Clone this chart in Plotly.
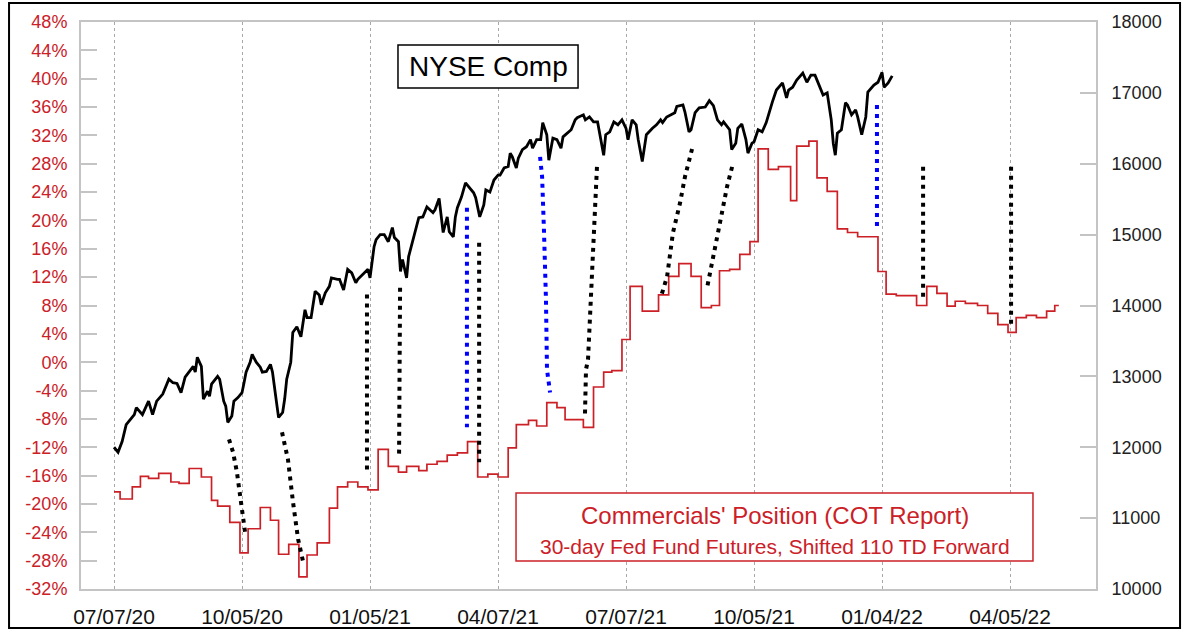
import plotly.graph_objects as go

# ---------------- data ----------------
x_tick_days = [0, 63, 126, 189, 252, 315, 378, 441]
x_tick_labels = ["07/07/20", "10/05/20", "01/05/21", "04/07/21",
                 "07/07/21", "10/05/21", "01/04/22", "04/05/22"]

left_tick_vals = [-32, -28, -24, -20, -16, -12, -8, -4, 0, 4, 8, 12, 16, 20,
                  24, 28, 32, 36, 40, 44, 48]
left_tick_labels = ["-32%", "-28%", "-24%", "-20%", "-16%", "-12%", "-8%",
                    "-4%", "0%", "4%", "8%", "12%", "16%", "20%", "24%",
                    "28%", "32%", "36%", "40%", "44%", "48%"]
right_tick_vals = [10000, 11000, 12000, 13000, 14000, 15000, 16000, 17000, 18000]
right_tick_labels = ["10000", "11000", "12000", "13000", "14000", "15000",
                     "16000", "17000", "18000"]

# NYSE Composite (trading-day index, close)
nyse_day = [0, 2, 4, 6, 8, 10, 11, 14, 17, 19, 21, 24, 27, 29, 31, 33, 35, 37,
            39, 40, 41, 43, 44, 46, 47, 48, 51, 52, 54, 55, 56, 58, 59, 61, 63,
            64, 65, 67, 68, 70, 72, 73, 75, 77, 78, 80, 81, 83, 84, 85, 87, 88,
            90, 92, 94, 95, 97, 99, 101, 102, 104, 106, 107, 110, 111, 113, 114,
            115, 117, 119, 120, 123, 125, 126, 127, 128, 129, 131, 133, 135,
            137, 138, 140, 141, 142, 144, 145, 147, 149, 150, 152, 154, 157,
            158, 160, 161, 162, 164, 165, 167, 168, 169, 171, 173, 175, 177,
            178, 179, 180, 182, 183, 185, 187, 189, 190, 192, 194, 195, 196,
            198, 199, 201, 203, 205, 206, 208, 210, 211, 213, 214, 216, 218,
            220, 221, 223, 225, 227, 228, 231, 232, 234, 236, 238, 239, 241,
            242, 244, 246, 248, 250, 251, 252, 253, 255, 257, 258, 260, 262,
            265, 267, 269, 270, 272, 274, 276, 277, 280, 281, 283, 284, 286,
            288, 291, 293, 295, 297, 299, 300, 302, 303, 304, 306, 307, 309,
            311, 312, 314, 315, 317, 319, 321, 323, 324, 326, 329, 331, 332,
            334, 336, 339, 341, 343, 345, 346, 348, 349, 351, 352, 353, 354,
            355, 356, 358, 360, 361, 363, 365, 366, 368, 370, 371, 374, 376,
            378, 379, 381, 383]
nyse_close = [12000, 11930, 12080, 12320, 12390, 12460, 12560, 12460, 12650,
              12460, 12650, 12750, 12960, 12910, 12900, 12770, 12990, 13060,
              13140, 13060, 13270, 13140, 12680, 12790, 12720, 12890, 13000,
              12960, 12650, 12580, 12350, 12440, 12650, 12700, 12770, 12910,
              13060, 13200, 13310, 13200, 13130, 13060, 13070, 13170, 13060,
              12630, 12420, 12490, 12680, 12960, 13200, 13620, 13700, 13560,
              13940, 13830, 13830, 14200, 14150, 14010, 14180, 14270, 14390,
              14370, 14370, 14220, 14370, 14510, 14460, 14320, 14370, 14460,
              14510, 14390, 14620, 14830, 14930, 15000, 15000, 14900, 15100,
              14960, 14900, 14480, 14650, 14390, 14690, 14900, 15110, 15240,
              15250, 15390, 15310, 15350, 15510, 15250, 15030, 15250, 15040,
              14970, 15250, 15380, 15530, 15730, 15660, 15590, 15520, 15390,
              15250, 15420, 15630, 15600, 15770, 15840, 15840, 15940, 15960,
              16150, 16100, 15940, 16080, 16200, 16240, 16340, 16220, 16340,
              16340, 16580, 16410, 16050, 16360, 16340, 16220, 16380, 16430,
              16480, 16620, 16650, 16690, 16620, 16660, 16590, 16590, 16450,
              16120, 16410, 16450, 16590, 16550, 16620, 16550, 16500, 16340,
              16620, 16550, 16340, 16030, 16410, 16500, 16550, 16620, 16580,
              16660, 16690, 16720, 16810, 16830, 16730, 16450, 16480, 16720,
              16790, 16800, 16890, 16820, 16620, 16550, 16590, 16520, 16480,
              16200, 16290, 16500, 16560, 16340, 16150, 16290, 16310, 16480,
              16450, 16580, 16790, 16870, 17040, 17140, 16930, 17040, 17080,
              17180, 17280, 17150, 17250, 17250, 17180, 17040, 16970, 17000,
              16800, 16620, 16290, 16120, 16430, 16480, 16860, 16830, 16690,
              16760, 16660, 16410, 16660, 17010, 17110, 17150, 17290, 17080,
              17140, 17240]

# Commercials' position, shifted 110 TD forward (step series, %)
cot_day = [0, 3, 9, 13, 17, 22, 28, 32, 37, 43, 48, 51, 57, 62, 66, 72, 77,
           81, 86, 91, 95, 100, 106, 110, 115, 120, 125, 130, 135, 140, 144,
           150, 154, 159, 164, 169, 174, 179, 184, 189, 194, 198, 204, 208,
           213, 218, 222, 231, 236, 241, 245, 250, 254, 260, 268, 273, 278,
           284, 289, 294, 298, 303, 308, 313, 317, 322, 327, 333, 336, 342,
           346, 351, 356, 361, 366, 376, 380, 385, 395, 400, 405, 410, 414,
           419, 425, 430, 435, 440, 444, 449, 454, 459, 463, 465]
cot_pct = [-18.3, -19.3, -17.6, -16.1, -16.4, -15.7, -16.9, -17.1, -15.0,
           -16.2, -19.5, -20.3, -22.6, -26.9, -23.5, -20.5, -22.3, -27.1,
           -25.7, -30.3, -27.2, -25.5, -20.6, -17.6, -16.9, -17.6, -18.0,
           -12.3, -14.7, -15.5, -14.7, -15.3, -14.4, -14.0, -13.1, -12.8,
           -11.2, -16.2, -15.8, -16.2, -12.1, -8.8, -8.2, -9.0, -5.7, -6.4,
           -8.1, -9.2, -3.5, -1.4, -1.2, 3.2, 10.7, 7.2, 9.5, 12.1, 13.9,
           12.1, 7.7, 8.0, 12.9, 13.1, 15.2, 17.0, 30.1, 27.2, 27.6, 22.8,
           30.5, 31.2, 26.0, 24.1, 18.8, 18.3, 17.7, 12.8, 9.6, 9.4, 8.0,
           10.7, 9.7, 7.9, 8.6, 8.3, 8.0, 6.9, 5.3, 4.2, 6.3, 6.6, 6.3, 7.2,
           8.0, 8.0]

# dotted connectors (day, NYSE-scale value), drawn on the right axis
conn_days = [
    [56.6, 58.6, 60.5, 63.0, 64.5],
    [82.7, 85.6, 88.1, 90.6, 93.0],
    [124.5, 124.5],
    [140.8, 140.3],
    [173.7, 173.7],
    [179.7, 179.7],
    [209.7, 210.7, 211.6, 212.6, 213.1, 214.6],
    [237.7, 236.7, 235.8, 234.3, 233.3, 232.3, 231.8],
    [284.5, 281.0, 278.6, 275.1, 272.2, 269.2],
    [304.2, 301.7, 299.2, 296.8, 294.3, 291.9],
    [375.5, 375.5],
    [398.2, 398.2],
    [441.5, 441.5],
]
conn_vals = [
    [12112, 11929, 11647, 11126, 10802],
    [12211, 11830, 11225, 10704, 10394],
    [14154, 11661],
    [14252, 11901],
    [15379, 12281],
    [14886, 11788],
    [16097, 15815, 15069, 14083, 13098, 12774],
    [15956, 15308, 14548, 13802, 13238, 13098, 12464],
    [16209, 15815, 15449, 15027, 14407, 14125],
    [15956, 15674, 15308, 14970, 14604, 14252],
    [16829, 15111],
    [15956, 14125],
    [15956, 13703],
]
conn_kind = ["black", "black", "black", "black", "blue", "black", "blue",
             "black", "black", "black", "blue", "black", "black"]

# ---------------- figure ----------------
RED = "#cc2027"
FONT = "Liberation Sans, Arial, Helvetica, sans-serif"

fig = go.Figure()

fig.add_trace(go.Scatter(x=cot_day, y=cot_pct, mode="lines", yaxis="y",
                         line=dict(color=RED, width=1.7, shape="hv"),
                         hoverinfo="skip", showlegend=False))

fig.add_trace(go.Scatter(x=nyse_day, y=nyse_close, mode="lines", yaxis="y2",
                         line=dict(color="#000000", width=2.8),
                         hoverinfo="skip", showlegend=False))

for xs, ys, kind in zip(conn_days, conn_vals, conn_kind):
    col = "#0000ff" if kind == "blue" else "#000000"
    fig.add_trace(go.Scatter(x=xs, y=ys, mode="lines", yaxis="y2",
                             line=dict(color=col, width=4, dash="4px,5px"),
                             hoverinfo="skip", showlegend=False))

GRID = "#a8a8a8"
AXLINE = "#c4c4c4"

fig.update_layout(
    width=1182, height=631,
    margin=dict(l=81, r=86, t=22, b=42, autoexpand=False),
    paper_bgcolor="white", plot_bgcolor="white",
    showlegend=False,
    font=dict(family=FONT, color="#111111"),
    xaxis=dict(range=[-16.24, 483.3], tickvals=x_tick_days, ticktext=x_tick_labels,
               showgrid=True, gridcolor=GRID, gridwidth=1, griddash="dot",
               showline=True, mirror=True, linecolor=AXLINE, linewidth=2,
               ticks="", zeroline=False, ticklabelstandoff=8, automargin=False,
               tickfont=dict(size=21, color="#111111")),
    yaxis=dict(range=[-32, 48], tickvals=left_tick_vals, ticktext=left_tick_labels,
               ticks="inside", ticklen=16, tickwidth=1.5, tickcolor=AXLINE,
               showgrid=False, zeroline=False, showline=True, automargin=False,
               linecolor=AXLINE, linewidth=2, ticklabelstandoff=8,
               tickfont=dict(size=18, color=RED)),
    yaxis2=dict(range=[10000, 18000], overlaying="y", side="right",
                tickvals=right_tick_vals, ticktext=right_tick_labels,
                ticks="inside", ticklen=16, tickwidth=1.5, tickcolor=AXLINE,
                showgrid=False, zeroline=False, showline=True, automargin=False,
                linecolor=AXLINE, linewidth=2, ticklabelstandoff=10,
                tickfont=dict(size=18, color="#222222")),
)

# outer frame
fig.add_shape(type="rect", xref="paper", yref="paper",
              x0=-0.0709, x1=1.0828, y0=-0.0688, y1=1.0335,
              line=dict(color="#000000", width=2), fillcolor="rgba(0,0,0,0)",
              layer="above")

# NYSE Comp label box
fig.add_shape(type="rect", xref="paper", yref="paper",
              x0=0.3123, x1=0.4897, y0=0.8836, y1=0.9594,
              line=dict(color="#000000", width=1.5), fillcolor="white",
              layer="above")
fig.add_annotation(xref="paper", yref="paper", x=0.401, y=0.9215,
                   text="NYSE Comp", showarrow=False,
                   font=dict(size=28, color="#000000", family=FONT),
                   xanchor="center", yanchor="middle")

# COT legend box
fig.add_shape(type="rect", xref="paper", yref="paper",
              x0=0.4286, x1=0.9379, y0=0.0494, y1=0.1693,
              line=dict(color=RED, width=1.5), fillcolor="white",
              layer="above")
fig.add_annotation(xref="paper", yref="paper", x=0.6837, y=0.1305,
                   text="Commercials' Position (COT Report)", showarrow=False,
                   font=dict(size=24, color=RED, family=FONT),
                   xanchor="center", yanchor="middle")
fig.add_annotation(xref="paper", yref="paper", x=0.6837, y=0.0741,
                   text="30-day Fed Fund Futures, Shifted 110 TD Forward",
                   showarrow=False,
                   font=dict(size=21, color=RED, family=FONT),
                   xanchor="center", yanchor="middle")

fig.write_html("out.html",
               config={"displayModeBar": False},
               post_script="document.body.style.margin='0';"
                           "document.body.style.overflow='hidden';")
